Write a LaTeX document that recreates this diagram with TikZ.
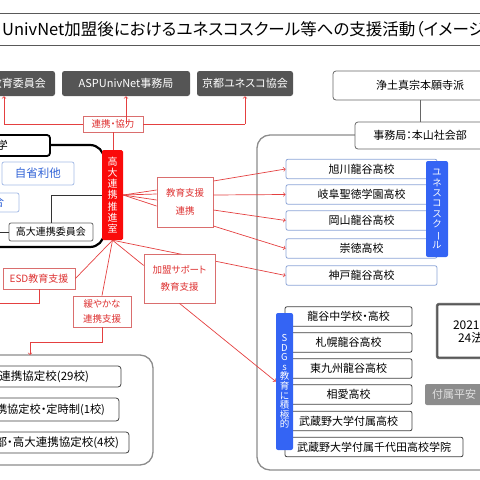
\documentclass[tikz,border=0pt]{standalone}
\usepackage{fontspec}
\newfontfamily\jp[RawFeature=+palt]{Noto Sans CJK JP}
\usetikzlibrary{calc,backgrounds}

\definecolor{boxgray}{RGB}{85,85,85}
\definecolor{linkred}{RGB}{228,64,64}
\definecolor{labelred}{RGB}{218,110,110}
\definecolor{textred}{RGB}{222,50,50}
\definecolor{suishinred}{RGB}{250,10,10}
\definecolor{uniblue}{RGB}{52,100,244}
\definecolor{schoolblue}{RGB}{140,165,215}
\definecolor{jishoblue}{RGB}{50,100,215}
\definecolor{jishoframe}{RGB}{165,188,230}
\definecolor{framegray}{RGB}{140,140,140}

\tikzset{
  titlerule/.style={draw=black!65, line width=0.9pt},
  darkbox/.style={fill=boxgray, text=white, rounded corners=2.5pt, minimum height=25pt,
    font=\jp\fontsize{11}{13}\selectfont},
  orgbox/.style={draw=black!60, fill=white, rounded corners=3pt, line width=0.8pt,
    font=\jp\fontsize{11}{13}\selectfont},
  grayframe/.style={draw=framegray, line width=1.3pt, rounded corners=13pt},
  univframe/.style={draw=black, line width=2.2pt, rounded corners=14pt},
  univhead/.style={draw=black, fill=white, line width=1.8pt, rounded corners=3pt,
    minimum height=21pt, font=\jp\fontsize{11}{13}\selectfont},
  jisho/.style={draw=jishoframe, fill=white, text=jishoblue, rounded corners=2pt, line width=0.8pt,
    minimum height=21pt, font=\jp\fontsize{11.5}{13}\selectfont},
  iinkai/.style={draw=black!60, fill=white, rounded corners=2pt, line width=0.8pt,
    minimum width=84pt, minimum height=18pt, font=\jp\fontsize{10}{12}\selectfont},
  suishin/.style={fill=suishinred, text=white, rounded corners=1.5pt, align=center, inner sep=0pt,
    minimum width=21pt, minimum height=90pt, font=\jp\fontsize{10}{11.2}\selectfont},
  tatebar/.style={fill=uniblue, text=white, rounded corners=2pt, align=center, inner sep=0pt,
    font=\jp\fontsize{9.5}{10.4}\selectfont},
  redlabel/.style={draw=labelred, fill=white, text=textred, line width=0.8pt, align=center,
    inner sep=1pt},
  school/.style={draw=schoolblue, fill=white, rounded corners=2pt, line width=0.8pt,
    minimum width=151pt, minimum height=19.5pt, font=\jp\fontsize{11}{13}\selectfont},
  sdgschool/.style={draw=black!75, fill=white, rounded corners=2pt, line width=0.8pt,
    minimum height=19.5pt, font=\jp\fontsize{11}{13}\selectfont},
  kyotei/.style={draw=black!75, fill=white, rounded corners=3pt, line width=0.8pt,
    align=right, font=\jp\fontsize{11.5}{13}\selectfont},
  link/.style={draw=linkred, line width=0.7pt},
  blackline/.style={draw=black!80, line width=0.7pt},
}

\begin{document}
\begin{tikzpicture}[x=1pt, y=-1pt, font=\jp]
\useasboundingbox (0,0) rectangle (480,480);
\clip (0,0) rectangle (480,480);

% title
\draw[titlerule] (0,13) -- (480,13);
\draw[titlerule] (0,45) -- (480,45);
\node[anchor=west, inner sep=0pt, font=\jp\fontsize{16.5}{19}\selectfont] (title) at (2,29)
  {UnivNet加盟後におけるユネスコスクール等への支援活動（イメージ};

% partners
\node[darkbox, text width=102pt, inner xsep=9pt, align=right] (board) at (-5,83.5) {教育委員会};
\node[darkbox, minimum width=128pt] (asp) at (126,83.5) {ASPUnivNet事務局};
\node[darkbox, minimum width=96pt, inner xsep=2pt] (kyoto) at (245,83.5) {京都ユネスコ協会};

% organisation (right)
\node[orgbox, minimum width=174pt, minimum height=29pt] (honganji) at (420,85.5) {浄土真宗本願寺派};
\draw[grayframe] (257,135) rectangle (520,470);
\node[orgbox, minimum width=130pt, minimum height=27pt] (jimu) at (420,135.5) {事務局：本山社会部};
\draw[orgbox] (honganji) -- (jimu);

% university (left)
\draw[univframe] (-30,145) rectangle (104,247);
\node[univhead, text width=16pt, inner xsep=37pt, align=left] (univhead) at (5,145.5) {学};
\node[jisho, minimum width=72pt, minimum height=23pt] (jisho) at (38,173.5) {自省利他};
\node[jisho, minimum height=19pt, text width=49pt, inner xsep=15pt, align=right] (gakubu) at (-20.5,202.5) {合};
\node[iinkai] (iinkai) at (51,232) {高大連携委員会};
\node[suishin] (suishin) at (112.5,195) {高\\大\\連\\携\\推\\進\\室};
\coordinate (iinkaiout) at (-10,232);
\draw[blackline] (iinkai.north) |- (suishin.west);
\draw[blackline] (iinkai.west) -- (iinkaiout);

% cooperation
\node[redlabel, minimum width=60pt, minimum height=16pt, font=\jp\fontsize{9.5}{11}\selectfont] (coop) at (113,124) {連携・協力};
\coordinate (coopL) at (4,124);
\coordinate (coopR) at (245,124);
\draw[link] (coopL) -- (coop.west);
\draw[link] (coop.east) -- (coopR);
\draw[link,->] (coopL) -- (coopL |- board.south);
\draw[link,->] (asp.south |- coop.center) -- (asp.south);
\draw[link,->] (coopR) -- (kyoto.south);
\draw[link] (coop.south) -- (coop.south |- suishin.north);

% support labels
\node[redlabel, minimum width=56pt, minimum height=50pt, font=\jp\fontsize{9.5}{18}\selectfont] (kyoiku) at (185,202) {教育支援\\連携};
\node[redlabel, minimum width=71pt, minimum height=49pt, font=\jp\fontsize{9.5}{17}\selectfont] (kamei) at (179.5,278.5) {加盟サポート\\教育支援};
\node[redlabel, minimum width=72pt, minimum height=21pt, font=\jp\fontsize{10}{12}\selectfont] (esd) at (39,278.5) {ESD教育支援};
\node[redlabel, minimum width=58pt, minimum height=31pt, font=\jp\fontsize{9.5}{14.5}\selectfont] (yuruyaka) at (102,311.5) {緩やかな\\連携支援};

% UNESCO schools
\node[school] (asahikawa) at (361.5,169) {旭川龍谷高校};
\node[school] (gifu) at (361.5,194.5) {岐阜聖徳学園高校};
\node[school] (okayama) at (361.5,220.5) {岡山龍谷高校};
\node[school] (sotoku) at (361.5,248.5) {崇徳高校};
\node[school] (kobe) at (361.5,275.5) {神戸龍谷高校};
\node[tatebar, minimum width=22pt, minimum height=96pt] (unesco) at (437,209)
  {ユ\\ネ\\ス\\コ\\ス\\ク\\\rotatebox[origin=c]{-90}{ー}\\ル};

% SDGs schools
\node[sdgschool, minimum width=127pt] (ryukoku) at (348.5,316.5) {龍谷中学校・高校};
\node[sdgschool, minimum width=127pt] (sapporo) at (348.5,342.5) {札幌龍谷高校};
\node[sdgschool, minimum width=127pt] (higashi) at (348.5,368.5) {東九州龍谷高校};
\node[sdgschool, minimum width=127pt] (soai) at (348.5,394.5) {相愛高校};
\node[sdgschool, minimum width=127pt] (musashino) at (348.5,421) {武蔵野大学付属高校};
\node[sdgschool, minimum width=178pt] (chiyoda) at (374,447) {武蔵野大学付属千代田高校学院};
\node[tatebar, minimum width=17pt, minimum height=137pt, font=\jp\fontsize{9.5}{9.6}\selectfont] (sdgs) at (284.5,381.5)
  {S\\D\\G\\s\\教\\育\\に\\積\\極\\的};

\node[draw=black!65, line width=2.6pt, fill=white, rounded corners=2pt, minimum height=54pt,
  text width=60pt, inner xsep=16pt, align=left, font=\jp\fontsize{12}{13}\selectfont] (houjin) at (483,331)
  {2021年\\\hspace*{5pt}24法人};
\draw[draw=white, line width=0.8pt, rounded corners=2pt] (houjin.south west) rectangle (houjin.north east);
\node[fill=black!45, text=black!12, rounded corners=2pt, minimum height=21pt, text width=86pt, inner xsep=7pt,
  align=left, font=\jp\fontsize{11}{13}\selectfont] (heian) at (475,394.5) {付属平安};

% agreement schools (left)
\draw[grayframe] (-40,355) rectangle (153,465);
\coordinate (kyoteitop) at (30,355);
\coordinate (kyoteibend) at (30,342);
\node[kyotei, minimum height=21pt, text width=117pt, inner xsep=32pt] (kyotei29) at (30.5,376.5) {連携協定校(29校)};
\node[kyotei, minimum height=23pt, text width=149pt, inner xsep=14pt, font=\jp\fontsize{11.2}{13}\selectfont] (kyotei1) at (30.5,409.5) {携協定校・定時制(1校)};
\node[kyotei, minimum height=21pt, text width=169pt, inner xsep=10pt] (kyotei4) at (34.5,442.5) {部・高大連携協定校(4校)};

% support links
\foreach \dy in {12,8,2,-4}
  \draw[link] (suishin.east) -- ([yshift=\dy pt]kyoiku.west);
\foreach \dy/\sch in {21/asahikawa, 7/gifu, -8/okayama, -24/sotoku}
  \draw[link,->] ([yshift=\dy pt]kyoiku.east) -- (\sch.west);
\begin{pgfonlayer}{background}
  \draw[link,->] (suishin.south) -- (kobe.west);
\end{pgfonlayer}
\draw[link] (suishin.south) -- (esd.east);
\draw[link] (suishin.south) -- (yuruyaka.north);
\draw[link] (suishin.south) -- (kamei.160);
\draw[link,->] (kamei.south) -- (sdgs.west);
\coordinate (esdout) at (-10,303);
\draw[link] (esd.south) |- (esdout);
\draw[link,->] (yuruyaka.south) |- (kyoteibend) -- (kyoteitop);
\end{tikzpicture}
\end{document}
